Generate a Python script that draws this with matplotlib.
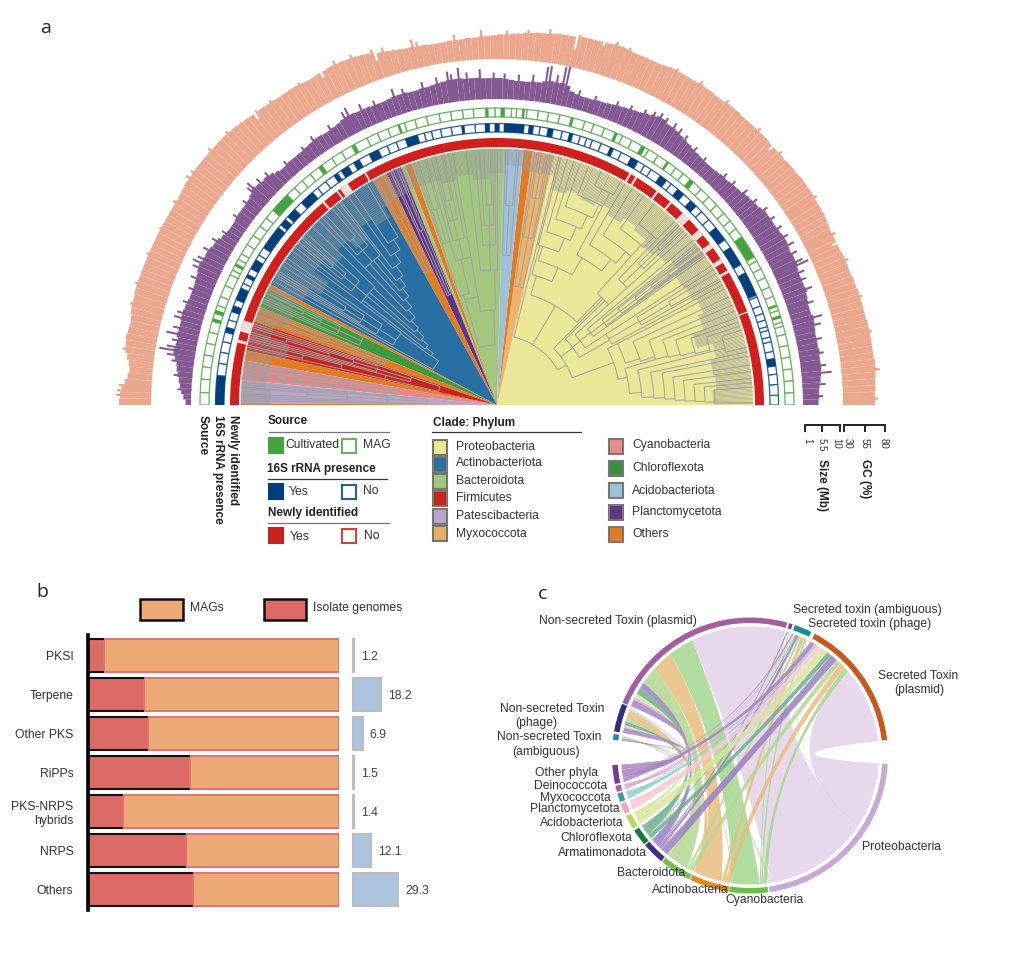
import numpy as np
import matplotlib
matplotlib.use("Agg")
import matplotlib.pyplot as plt
from matplotlib.collections import LineCollection
from matplotlib.patches import PathPatch, Rectangle, Wedge
from matplotlib.path import Path

plt.rcParams['font.family'] = ['Liberation Sans', 'DejaVu Sans']

W, H = 1024, 955

# ---- panel a: values per degree, from theta = 0 (right) to 179 (left)
gc_pct = [69, 69, 70, 70, 71, 72, 72, 71, 71, 71,
          71, 71, 71, 70, 70, 70, 70, 70, 69, 69,
          68, 68, 68, 68, 67, 67, 67, 67, 68, 69,
          70, 70, 70, 71, 71, 71, 71, 70, 70, 70,
          69, 69, 69, 69, 70, 70, 70, 70, 70, 70,
          71, 71, 71, 70, 70, 71, 71, 72, 71, 71,
          71, 71, 71, 70, 69, 69, 69, 69, 69, 70,
          71, 71, 70, 70, 69, 69, 69, 68, 67, 67,
          67, 66, 65, 65, 64, 63, 62, 61, 60, 60,
          59, 58, 58, 57, 57, 56, 56, 56, 55, 55,
          55, 56, 56, 57, 57, 58, 59, 60, 61, 63,
          65, 66, 67, 67, 68, 68, 68, 67, 67, 66,
          66, 67, 68, 68, 68, 68, 69, 69, 70, 70,
          71, 72, 73, 74, 74, 75, 75, 75, 75, 75,
          75, 75, 75, 74, 74, 73, 72, 71, 71, 71,
          71, 71, 71, 71, 71, 71, 71, 71, 71, 71,
          71, 71, 71, 70, 70, 69, 67, 66, 67, 68,
          67, 66, 63, 60, 58, 60, 63, 66, 68, 69]
gc_spike_at = [0.8, 5.2, 11, 16.5, 22.4, 26.8, 33, 41.5, 46.2, 52.6, 57.4, 61.5, 69.3, 71.4, 77.1, 81.7, 85, 88.3, 92.3,
               96.5, 102.4, 103.1, 107.7, 109.4, 112.6, 115.3, 121.5, 126.6, 129.2, 134.6, 138.2, 142.4, 143.4, 147.6,
               152.1, 156.4, 161.1, 164.3, 171.2, 176.8, 177.6, 178.3]
gc_spike = [73, 77, 74, 73, 72, 71, 74, 73, 74, 75, 76, 74, 73, 75, 71, 71, 67, 65, 66, 63, 62, 66, 66, 68, 71, 73, 70, 72,
            73, 78, 79, 78, 79, 75, 73, 74, 74, 72, 70, 70, 72, 73]
gc_notch_at = [25.3, 43, 73.3, 77.5, 109, 117.7, 129.6]
gc_notch = [61, 63, 65, 52, 53, 60, 62]

size_mb = [5.0, 5.2, 5.2, 5.4, 5.8, 6.0, 6.2, 6.2, 6.2, 6.4,
           6.2, 6.2, 6.2, 6.4, 6.6, 6.8, 6.4, 6.4, 6.6, 6.8,
           7.2, 7.0, 7.0, 7.0, 7.2, 7.6, 7.6, 7.4, 7.6, 7.8,
           7.8, 7.6, 7.4, 7.4, 7.4, 7.4, 7.0, 6.6, 6.4, 6.2,
           6.0, 5.6, 5.4, 5.2, 5.0, 5.0, 4.8, 4.6, 4.6, 4.6,
           4.8, 5.0, 5.2, 5.6, 5.8, 6.2, 6.6, 6.8, 6.8, 7.4,
           7.4, 7.0, 6.6, 6.2, 6.0, 5.8, 5.6, 5.4, 5.2, 5.0,
           4.8, 4.8, 4.6, 4.6, 4.6, 4.8, 5.2, 6.4, 6.8, 6.6,
           6.8, 6.4, 6.0, 6.0, 5.8, 5.8, 5.8, 6.0, 6.2, 6.4,
           6.4, 6.4, 6.4, 6.6, 6.6, 6.6, 6.8, 6.8, 6.8, 6.6,
           6.4, 6.2, 6.0, 6.0, 5.8, 5.8, 6.0, 6.0, 6.0, 5.8,
           5.6, 5.6, 5.6, 5.8, 5.8, 5.8, 6.0, 6.0, 5.8, 5.4,
           5.2, 5.0, 5.0, 5.2, 5.2, 5.0, 4.8, 4.6, 4.6, 4.6,
           4.6, 4.4, 4.4, 4.8, 5.4, 5.8, 5.6, 6.0, 6.2, 5.6,
           5.2, 5.0, 5.0, 5.0, 4.8, 4.6, 4.6, 4.8, 5.2, 5.8,
           6.0, 6.4, 6.6, 6.6, 7.0, 6.8, 6.4, 6.2, 6.0, 6.0,
           6.0, 6.2, 6.4, 6.6, 6.6, 6.4, 6.4, 6.6, 6.2, 6.4,
           6.6, 6.0, 5.4, 5.2, 4.8, 4.4, 4.0, 3.6, 3.0, 2.4]
size_spike_at = [1.4, 3.5, 5.5, 6.8, 9, 11.5, 14, 15.3, 18, 20.4, 22.2, 23.5, 24.8, 25.4, 27, 28.6, 30.2, 32, 34, 36, 38.2,
                 40.5, 43, 45, 49.6, 52, 54.5, 56, 57.3, 59, 60.2, 61.4, 63, 65.5, 68, 72, 75, 77.6, 78.2, 79.3, 80.6,
                 81.2, 83.5, 86, 88.5, 90.4, 92.8, 95.1, 96.5, 97.8, 98.4, 100.4, 103, 106.6, 108.3, 112, 114.5, 117,
                 117.8, 121, 124.6, 127, 131, 134.8, 136.6, 138.2, 138.8, 141, 144, 147.5, 149.5, 151.6, 153.4, 154.2,
                 155.1, 157, 159, 161.5, 163.5, 164.4, 166.2, 167.3, 168.4, 169.6, 170.2, 171, 172, 174.5, 177]
size_spike = [6.2, 7, 8.8, 7.6, 7.4, 7.6, 8.2, 9, 8, 8.8, 8.2, 8.6, 10.6, 9.4, 9, 9.4, 9, 8.8, 8.6, 8.4, 7.6,
              7.2, 6.4, 6.2, 5.6, 6.2, 7.2, 7.8, 8.2, 8.2, 8.6, 8, 7.4, 6.8, 6.4, 5.8, 6, 11.3, 11, 8.6, 10.6,
              10.2, 7.8, 7.4, 7.6, 7.8, 8.8, 8.2, 9.6, 8.2, 9, 8, 7.6, 7.2, 8, 6.8, 7.4, 8.2,
              7.6, 6.4, 6.4, 5.6, 5.6, 6.8, 7.2, 8.2, 7.4, 6.2, 6, 6, 7.2, 8, 8.2, 9,
              8.4, 7.8, 7.2, 7.4, 8, 8.4, 8, 9.4, 7.6, 8.6, 10.4, 8.2, 6.8, 5.8, 4.6]

# clade wedges (theta start, theta end, colour)
clade_from = [0, 77, 82, 84, 88.5, 109.5, 111, 112, 115.5, 119, 152, 153, 157.5, 161, 167.7, 170, 174.4, 179.6]
clade_to = [77, 82, 84, 88.5, 109.5, 111, 112, 115.5, 119, 152, 153, 157.5, 161, 167.7, 170, 174.4, 179.6, 180]
clade_col = ['#ebe897', '#eeb46c', '#e27c24', '#9dc2da', '#a3c77f', '#e27c24', '#a3c77f', '#5f358a', '#e27c24',
             '#2870a3', '#e27c24', '#3e9a3c', '#e27c24', '#c8241f', '#e27c24', '#e58b8b', '#b9a6cc', '#e27c24']

# tree nodes (radius, theta low, theta high)
tree_nodes = [(70, 30, 76), (80, 20, 45), (124, 12, 27), (133, 5, 16), (145, 3, 14), (157, 2.5, 12), (168, 2, 11),
              (178, 1.5, 9), (188, 1.2, 7.5), (198, 1, 6), (208, .8, 5), (218, .5, 4),
              (135, 18, 27), (150, 17, 25), (165, 16, 23), (178, 15.5, 21.5), (190, 15, 20), (205, 14.5, 19),
              (220, 14, 18), (235, 13, 17),
              (95, 30, 44), (105, 33, 42), (118, 35.5, 40), (135, 36, 39), (155, 36.3, 38.5), (175, 36.5, 38),
              (195, 36.7, 37.8), (215, 36.8, 37.5), (130, 28, 33), (165, 29, 32), (200, 29.5, 31),
              (115, 46, 73), (135, 66, 75), (150, 60, 74), (170, 52, 62), (185, 50, 60), (200, 48, 58),
              (215, 47, 55), (230, 46, 52), (165, 68, 75.5), (180, 66, 74), (195, 64.5, 72.5), (210, 63, 71),
              (225, 62, 69), (240, 61, 66), (150, 42, 48), (175, 42, 46), (200, 43, 45), (225, 43.5, 44.5),
              (120, 77.5, 81.5), (170, 78, 81), (210, 78.5, 80.5), (235, 79, 80),
              (150, 85, 88), (200, 85.5, 87.5),
              (60, 92, 107), (95, 91, 100), (110, 100, 107), (135, 90, 97), (160, 90.5, 95), (180, 91, 94),
              (200, 91.5, 93), (150, 100, 106), (170, 101, 105), (190, 102, 104.5), (210, 102.5, 104), (115, 104, 109),
              (170, 106, 108.5), (205, 106.5, 108),
              (120, 112.5, 114.5), (190, 113, 114), (150, 116, 118.5), (210, 116.5, 118),
              (73, 143, 151), (82, 141, 143.5), (91, 139, 142), (100, 137, 140), (110, 135.5, 138.5), (120, 133, 136.5),
              (130, 131, 134), (140, 129, 132), (150, 127.5, 130.5), (160, 126, 129), (172, 124, 127.5), (183, 122, 125.5),
              (195, 120.5, 124), (120, 143, 150), (140, 145, 149.5), (160, 146, 149), (180, 147, 148.5),
              (170, 136, 143), (185, 138, 142), (200, 139, 141), (215, 139.5, 140.5),
              (190, 128, 134), (205, 129, 133), (220, 130, 132),
              (150, 153, 156.5), (175, 153.5, 156), (195, 154, 155.5), (215, 154.2, 155),
              (120, 158, 160), (180, 158.5, 159.5),
              (60, 162, 167), (90, 161.5, 165), (125, 162, 164.5), (150, 162.5, 164), (175, 163, 164), (115, 165, 167),
              (160, 165.5, 167), (200, 165.5, 166.5), (220, 162.5, 163.5),
              (100, 170.5, 173.5), (150, 171, 173), (200, 171.5, 172.5),
              (70, 175, 179), (110, 175.5, 178.5), (150, 176, 178), (190, 176.3, 177.5)]

# dense outer tips of the tree: inner radius per 4 degree step
fringe_r = [216, 220, 218, 224, 208, 220, 226, 222, 220, 226, 220, 216, 222, 226, 220, 226, 222, 226, 222, 236, 236, 240,
            232, 226, 232, 228, 232, 232, 230, 228, 216, 224, 210, 222, 214, 226, 208, 220, 226, 222, 236, 216, 230, 232,
            226]

# rings
newly_gaps = [(20.2, 20.5), (29.7, 30.3), (32.2, 33.2), (36, 37.2), (39.5, 41), (44, 46), (49.1, 49.6), (52.8, 53.3),
              (58.3, 58.8), (59.8, 60.3), (119.4, 119.8), (124, 126), (126.6, 127), (130.3, 130.8),
              (161.5, 164), (165.8, 166.5)]
rrna_yes = [(8, 9.5), (23, 28), (30, 34), (36, 39), (45, 46.5), (48.5, 50), (53, 54.5), (60, 61.5), (65.6, 66.2),
            (74.4, 75), (78.5, 79.5), (82.6, 83.4), (84.5, 88.5), (89.6, 90.4), (91.6, 92.4), (96.8, 97.2),
            (106.5, 109), (115, 117), (119.4, 120.6), (122, 123.6), (124.6, 125.4), (131, 134), (136, 138),
            (138.8, 140.2), (141, 146), (149, 151), (152.4, 153), (155.5, 158), (159.4, 160.6), (164, 165),
            (174, 180)]
rrna_edges = [0, 2, 4.2, 6.3, 8, 9.5, 11, 13, 14, 15.4, 16.2, 17.6, 19, 20.6, 22.6, 23, 28, 30, 34, 36, 39, 41.2, 43.4,
              45, 46.5, 48.5, 50, 51.8, 53, 54.5, 56.8, 58.4, 60, 61.5, 63.8, 65.6, 66.2, 68.3, 70.2, 71.4, 72.8, 74.4,
              75, 76.6, 78.5, 79.5, 81.2, 82.6, 83.4, 84.5, 88.5, 89.6, 90.4, 91.6, 92.4, 94.5, 96.8, 97.2, 99.4, 101.6,
              103.5, 105, 106.5, 109, 111, 113, 115, 117, 119.4, 120.6, 122, 123.6, 124.6, 125.4, 127.5, 129.6, 131,
              134, 136, 138, 138.8, 140.2, 141, 146, 147.8, 149, 151, 152.4, 153, 154.4, 155.5, 158, 159.4, 160.6,
              162.4, 164, 165, 167, 169.2, 171.5, 174, 180]
source_yes = [(17, 17.5), (19.3, 19.7), (30, 34.5), (48.6, 49.4), (54.6, 55), (60, 60.8), (66, 66.5), (75, 75.5),
              (84.6, 85), (88.6, 89.2), (91.8, 92.2), (109.1, 109.5), (118.7, 119.3), (126.2, 126.9), (135, 139),
              (151.6, 152), (161.3, 162), (163, 163.6)]
source_edges = [0, 2.4, 4.7, 7, 9.3, 11.6, 13.8, 15.4, 16.2, 17.5, 18.6, 19.7, 21.5, 23.4, 25.4, 27.3, 29, 30, 34.5, 36.4,
                38.3, 40.2, 42.3, 44.5, 46.6, 48.6, 49.4, 51.2, 53, 55, 57.2, 59.3, 60.8, 63, 65, 66.5, 68.8, 71, 72.8,
                75.5, 77.8, 80, 82, 84.2, 85, 86.2, 87.2, 88.6, 89.2, 90.4, 91.8, 92.2, 94.6, 96.7, 99, 101.3, 103.8,
                106.1, 108.2, 109.5, 111.6, 113.8, 116, 118.7, 119.3, 121.6, 123.8, 126.2, 126.9, 129, 131, 133, 135,
                139, 141, 143, 145.2, 147.3, 149.4, 150.6, 151.6, 152, 153, 154, 156.3, 158.6, 160.4, 162, 163.6, 165.8,
                168, 170.3, 172.6, 175, 177.6, 180]

# ---- panel b
bgc_names = ['PKSI', 'Terpene', 'Other PKS', 'RiPPs', 'PKS-NRPS\nhybrids', 'NRPS', 'Others']
isolate_pct = [6.4, 22.4, 24, 40.8, 14, 39.2, 42]
share_pct = [1.2, 18.2, 6.9, 1.5, 1.4, 12.1, 29.3]

# ---- panel c
toxin_names = ['STp', 'Sph', 'Sam', 'NSp', 'NSph', 'NSam']
toxin_from = [6.5, 63.6, 72, 74.3, 158, 171]
toxin_to = [62, 71, 73.5, 157.5, 169.9, 173.5]
toxin_col = ['#c9581c', '#12908f', '#7d3fa0', '#a55da0', '#332a8a', '#2e7fc0']
phyla_names = ['Other', 'Deino', 'Myxo', 'Planc', 'Acido', 'Chloro', 'Armat', 'Bact', 'Actino', 'Cyano', 'Proteo']
phyla_from = [184, 192.7, 196, 200.5, 206, 213, 220.5, 230.5, 244.3, 261.3, 278.2]
phyla_to = [191.9, 195.3, 199.7, 205, 212, 220, 230, 243.9, 261, 277.6, 356.5]
phyla_col = ['#733a96', '#c05aa0', '#3a9ea5', '#f0a8b8', '#b8d860', '#0e7a3c', '#4a2a8a', '#7cbe50', '#e08a1e',
             '#6cc04a', '#c8a8d4']
chord_col = ['#a884c0', '#dda4cc', '#8fd0cf', '#f6c9d4', '#d6e69c', '#6fb08c', '#9b80c4', '#b4d890', '#e9bd7f',
             '#a5d891', '#e3d2e8']
# rows phyla, columns toxins
flow = np.array([[2, .5, 0, 3.5, 2, .4],
                 [.5, .2, 0, .8, .2, 0],
                 [.5, .2, 0, .5, .2, .1],
                 [2, .2, 0, .6, .2, 0],
                 [3, .3, 0, 1.5, .4, 0],
                 [2, .4, 0, 3.5, 1, .3],
                 [3, 1, .5, 3, .5, .1],
                 [2, 1, .1, 9, 1.5, .5],
                 [2.5, 1.5, .1, 11, 3, .2],
                 [2, .8, .5, 13, .5, .1],
                 [31, .5, .3, 48, 1, .5]])

fig = plt.figure(figsize=(W / 100, H / 100), dpi=100, facecolor='white')


def px_rect(x0, y0, x1, y1):
    return [x0 / W, 1 - y1 / H, (x1 - x0) / W, (y1 - y0) / H]


# ---- panel a
# a half circle sits in the middle of a square polar box
R = 400
ax_a = fig.add_axes(px_rect(497 - R, 405 - R / 2 - R, 497 + R, 405 - R / 2 + R), projection='polar')
ax_a.set_thetamin(0)
ax_a.set_thetamax(180)
ax_a.set_ylim(0, R)
ax_a.axis('off')


def ring_bar(lo, hi, bottom, top, **kw):
    lo, hi = np.asarray(lo), np.asarray(hi)
    ax_a.bar(np.radians(lo), top - bottom, width=np.radians(hi - lo), bottom=bottom, align='edge', **kw)


def gc_r(v):
    return 346 + (np.asarray(v) - 30) * 41 / 50


def size_r(v):
    return 306 + (np.asarray(v) - 1) * 35 / 9


deg = np.arange(180)
spike_w = 0.35
ring_bar(deg, deg + 1, 346, gc_r(gc_pct), color='#eba88e', lw=0)
ring_bar(np.array(gc_spike_at), np.array(gc_spike_at) + spike_w, 346, gc_r(gc_spike), color='#eba88e', lw=0)
ring_bar(np.array(gc_notch_at), np.array(gc_notch_at) + spike_w, gc_r(gc_notch), 395, color='white', lw=0)
ring_bar(deg, deg + 1, 306, size_r(size_mb), color='#855a94', lw=0)
ring_bar(np.array(size_spike_at), np.array(size_spike_at) + spike_w, 306, size_r(size_spike), color='#855a94', lw=0)

ring_bar(clade_from, clade_to, 0, 256.5, color=clade_col, lw=0)

# tree: radial lines run outwards to the next node over that angle
segs = []
joined = set()
for r, lo, hi in tree_nodes:
    th = np.radians(np.linspace(lo, hi, max(2, int((hi - lo) / 1.5) + 2)))
    segs.append(np.column_stack([th, np.full(len(th), r)]))
    for end in (lo, hi):
        outer = [n for n in tree_nodes if n[0] > r and n[1] <= end <= n[2]]
        stop = min(outer)[0] if outer else 256
        if outer:
            joined.add(min(outer))
        segs.append([(np.radians(end), r), (np.radians(end), stop)])
for node in tree_nodes:
    r, lo, hi = node
    mid = (lo + hi) / 2
    inner = [n[0] for n in tree_nodes if n[0] < r and n[1] <= mid <= n[2]]
    if node not in joined and inner:
        segs.append([(np.radians(mid), r), (np.radians(mid), max(inner))])
ax_a.add_collection(LineCollection(segs, colors='#a2a2a2', linewidths=0.7))

tips = []
for k, r in enumerate(fringe_r):
    for t in np.arange(k * 4, k * 4 + 4, 0.3):
        tips.append([(np.radians(t), r), (np.radians(t), 256)])
ax_a.add_collection(LineCollection(tips, colors='#9b9b9b', linewidths=0.45, alpha=0.8))

ring_bar(0, 180, 258, 267, color='#d01f1c', lw=0)
ring_bar([g[0] for g in newly_gaps], [g[1] for g in newly_gaps], 258, 267, color='white', lw=0, alpha=0.85)

ring_bar(rrna_edges[:-1], rrna_edges[1:], 273, 281.5, facecolor='white', edgecolor='#2a6098', lw=0.9)
ring_bar([g[0] for g in rrna_yes], [g[1] for g in rrna_yes], 273, 281.5, color='#003e7e', lw=0)
ring_bar(source_edges[:-1], source_edges[1:], 288, 297, facecolor='white', edgecolor='#67b35f', lw=0.9)
ring_bar([g[0] for g in source_yes], [g[1] for g in source_yes], 288, 297, color='#48a23f', lw=0)

# ---- panel b
row_lim = (6.526, -0.526)
rows = np.arange(len(bgc_names))
ax_b = fig.add_axes(px_rect(88, 635, 339, 910))
ax_b.barh(rows, np.array(isolate_pct), height=0.85, color='#dc6b67', lw=0)
ax_b.barh(rows, 100 - np.array(isolate_pct), left=isolate_pct, height=0.85, color='#ecab76', edgecolor='#e27270', lw=1.4)
ax_b.hlines(rows - 0.425, 0, isolate_pct, color='#111111', lw=1.5)
ax_b.hlines(rows + 0.425, 0, isolate_pct, color='#111111', lw=1.5)
ax_b.set_xlim(0, 100)
ax_b.set_ylim(*row_lim)
ax_b.set_yticks(rows)
ax_b.set_yticklabels(bgc_names, fontsize=8.7, color='#333333', ha='right', multialignment='right')
ax_b.tick_params(axis='y', length=0, pad=10.5)
ax_b.set_xticks([])
for s in ('top', 'right', 'bottom'):
    ax_b.spines[s].set_visible(False)
ax_b.spines['left'].set_linewidth(2.6)
ax_b.patch.set_alpha(0)

ax_s = fig.add_axes(px_rect(352, 635, 400, 910))
ax_s.barh(rows, share_pct, height=0.85, facecolor='#adc4de', edgecolor='#bdbdbd', lw=1.5)
ax_s.set_xlim(0, 30.4)
ax_s.set_ylim(*row_lim)
ax_s.axis('off')
for y, v in zip(rows, share_pct):
    ax_s.annotate(str(v), (v, y), xytext=(5, -1), textcoords='offset points', va='center', fontsize=8.7,
                  color='#444444', annotation_clip=False)

# ---- panel c
ax_c = fig.add_axes(px_rect(750 - 140, 755.5 - 140, 750 + 140, 755.5 + 140))
ax_c.set_xlim(-140, 140)
ax_c.set_ylim(-140, 140)
ax_c.axis('off')


def polar_xy(a, r):
    a = np.radians(a)
    return np.column_stack([r * np.cos(a), r * np.sin(a)])


def bend_point(a, b, r):
    # far apart ends get a straighter edge, neighbours bend right to the centre
    p = polar_xy(np.array([a, b]), r)
    k = 0.45 * np.sin(np.radians(b - a) / 2) ** 2
    return k * p.mean(axis=0)


def chord_path(a1, a2, b1, b2, r=129):
    arc_a = polar_xy(np.linspace(a1, a2, 20), r)
    arc_b = polar_xy(np.linspace(b1, b2, 20), r)
    verts = list(arc_a) + [bend_point(a2, b1, r), arc_b[0]] + list(arc_b[1:]) + [bend_point(a1, b2, r), arc_a[0]]
    codes = [Path.MOVETO] + [Path.LINETO] * 19 + [Path.CURVE3, Path.CURVE3] + [Path.LINETO] * 19 + [Path.CURVE3, Path.CURVE3]
    return Path(verts, codes)


# chord ends share out each sector in proportion to the flows
tox_scale = (np.array(toxin_to) - np.array(toxin_from)) / flow.sum(axis=0)
phy_scale = (np.array(phyla_to) - np.array(phyla_from)) / flow.sum(axis=1)
tox_pos = {}
for j in range(len(toxin_names)):
    a = toxin_from[j]
    for i in range(len(phyla_names) - 1, -1, -1):
        w = flow[i, j] * tox_scale[j]
        tox_pos[i, j] = (a, a + w)
        a += w
phy_pos = {}
for i in range(len(phyla_names)):
    b = phyla_from[i]
    for j in range(len(toxin_names) - 1, -1, -1):
        w = flow[i, j] * phy_scale[i]
        phy_pos[i, j] = (b, b + w)
        b += w
for i in range(len(phyla_names) - 1, -1, -1):
    for j in range(len(toxin_names)):
        if flow[i, j] > 0:
            a1, a2 = tox_pos[i, j]
            b1, b2 = phy_pos[i, j]
            ax_c.add_patch(PathPatch(chord_path(a1, a2, b1, b2), facecolor=chord_col[i], edgecolor='none', alpha=0.85))
for lo, hi, c in zip(toxin_from + phyla_from, toxin_to + phyla_to, toxin_col + phyla_col):
    ax_c.add_patch(Wedge((0, 0), 138, lo, hi, width=5.5, color=c, lw=0))

# ---- labels, legends and keys in pixel coordinates
ov = fig.add_axes([0, 0, 1, 1], facecolor='none')
ov.set_xlim(0, W)
ov.set_ylim(H, 0)
ov.axis('off')


def label(x, y, s, size=8.7, color='#333333', **kw):
    kw.setdefault('va', 'center')
    ov.text(x, y, s, fontsize=size, color=color, **kw)


def swatch(x0, y0, x1, y1, fc, ec=None, lw=1.5):
    ov.add_patch(Rectangle((x0, y0), x1 - x0, y1 - y0, facecolor=fc, edgecolor=ec or fc, lw=lw))


for x, y, s in [(46, 28, 'a'), (42, 592, 'b'), (543, 594, 'c')]:
    label(x, y, s, size=14, color='#222222', ha='center', family='Open Sans')

for x, s in [(203, 'Source'), (218, '16S rRNA presence'), (233, 'Newly identified')]:
    label(x, 415, s, size=8.5, weight='bold', rotation=270, ha='center', va='top', color='#222222')

label(268, 421, 'Source', size=8.5, weight='bold', color='#222222')
ov.plot([269, 389], [432, 432], color='#777777', lw=0.9)
swatch(269, 438, 283, 453, '#48a23f')
label(285, 445, 'Cultivated')
swatch(342, 439, 356, 453, 'white', '#67b35f')
label(363, 445, 'MAG')
label(267, 469, '16S rRNA presence', size=8.5, weight='bold', color='#222222')
ov.plot([268, 387], [479, 479], color='#333333', lw=0.9)
swatch(269, 484, 283, 499, '#003e7e')
label(289, 492, 'Yes')
swatch(342, 485, 356, 499, 'white', '#2a6098')
label(363, 491, 'No')
label(268, 513, 'Newly identified', size=8.5, weight='bold', color='#222222')
ov.plot([268, 389], [523, 523], color='#777777', lw=0.9)
swatch(269, 528, 283, 543, '#c8241f')
label(290, 537, 'Yes')
swatch(342, 529, 356, 543, 'white', '#d8403c')
label(364, 536, 'No')

label(433, 423, 'Clade: Phylum', size=8.5, weight='bold', color='#222222')
ov.plot([432, 581], [432, 432], color='#333333', lw=0.9)
left_names = ['Proteobacteria', 'Actinobacteriota', 'Bacteroidota', 'Firmicutes', 'Patescibacteria', 'Myxococcota']
left_cols = ['#ebe897', '#2870a3', '#a3c77f', '#c8241f', '#b9a6cc', '#e7ae68']
for s, c, y0, y1, ty in zip(left_names, left_cols, [440, 457, 474, 491, 509, 526], [455, 472, 489, 506, 524, 541],
                            [447, 463, 481, 498, 516, 534]):
    swatch(433, y0, 447, y1, c, '#777766')
    label(456, ty, s)
right_names = ['Cyanobacteria', 'Chloroflexota', 'Acidobacteriota', 'Planctomycetota', 'Others']
right_cols = ['#e58b8b', '#3e8f3c', '#9dc2da', '#5f358a', '#e27c24']
for s, c, y0, ty in zip(right_names, right_cols, [439, 461, 483, 505, 527], [445, 468, 491, 512, 534]):
    swatch(609, y0, 623, y0 + 15, c, '#777777')
    label(632, ty, s)

for xs, label_x, texts, name in [([805, 822, 840], [807, 822, 836], ['1', '5.5', '10'], 'Size (Mb)'),
                                 ([844, 865, 885], [848, 865, 884], ['30', '55', '80'], 'GC (%)')]:
    ov.plot([xs[0], xs[0], xs[2], xs[2]], [431, 425, 425, 431], color='#222222', lw=1.4, solid_joinstyle='miter')
    ov.plot([xs[1], xs[1]], [425, 431], color='#222222', lw=1.4)
    for x, s in zip(label_x, texts):
        label(x, 438, s, size=7, rotation=270, ha='center', va='top')
    label(xs[1], 459, name, size=8.5, weight='bold', rotation=270, ha='center', va='top', color='#222222')

swatch(140, 599, 183, 620, '#ecab76', '#111111', lw=1.8)
label(190, 608, 'MAGs')
swatch(264, 599, 306, 620, '#dc6b67', '#111111', lw=1.8)
label(313, 608, 'Isolate genomes')

chord_labels = [(793, 610, 'Secreted toxin (ambiguous)'), (808, 624, 'Secreted toxin (phage)'),
                (539, 621, 'Non-secreted Toxin (plasmid)'), (878, 676, 'Secreted Toxin'), (894, 690, '(plasmid)'),
                (500, 709, 'Non-secreted Toxin'), (515, 723, '(phage)'), (497, 737, 'Non-secreted Toxin'),
                (512, 752, '(ambiguous)'), (535, 773, 'Other phyla'), (534, 786, 'Deinococcota'),
                (540, 798, 'Myxococcota'), (530, 809, 'Planctomycetota'), (540, 823, 'Acidobacteriota'),
                (560, 838, 'Chloroflexota'), (558, 853, 'Armatimonadota'), (617, 873, 'Bacteroidota'),
                (652, 890, 'Actinobacteria'), (725, 900, 'Cyanobacteria'), (862, 847, 'Proteobacteria')]
for x, y, s in chord_labels:
    label(x, y, s)

fig.savefig('out.png', dpi=100)
